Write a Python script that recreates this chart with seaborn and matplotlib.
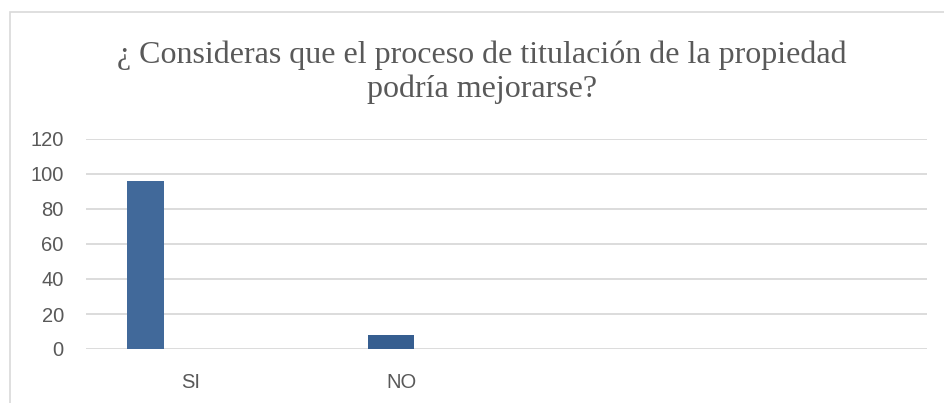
import matplotlib
matplotlib.use('Agg')
import matplotlib.pyplot as plt
import pandas as pd
import seaborn as sns
from matplotlib.patches import Rectangle

# data
categories = ['SI', 'NO']
values = [96, 8]
slots = ['SI', 'NO', 'x3', 'x4']          # Excel axis has 4 category slots
tick_labels = ['SI', 'NO', '', '']
title_lines = ['¿ Consideras que el proceso de titulación de la propiedad',
               'podría mejorarse?']

bar_colors = ['#41699A', '#365E90']
bar_widths = [0.174, 0.219]
bar_offsets = [-0.216, -0.051]
grey_text = '#595959'
grid_col = '#D9D9D9'

df = pd.DataFrame({'cat': categories, 'val': values})

sns.set_style('white')
plt.rcParams['font.family'] = ['Liberation Sans', 'DejaVu Sans']

fig = plt.figure(figsize=(9.44, 4.03), dpi=100)
ax = fig.add_axes([86 / 944, 1 - 349 / 403, (927 - 86) / 944, 210 / 403])

sns.barplot(data=df, x='cat', y='val', order=slots, ax=ax, errorbar=None, color=bar_colors[0])

for i, p in enumerate(ax.patches[:len(categories)]):
    c = p.get_x() + p.get_width() / 2
    p.set_width(bar_widths[i])
    p.set_x(c + bar_offsets[i] - bar_widths[i] / 2)
    p.set_facecolor(bar_colors[i])
    p.set_edgecolor('none')
    p.set_zorder(3)

ax.set_xlim(-0.5, len(slots) - 0.5)
ax.set_ylim(0, 120)
ax.set_yticks(range(0, 121, 20))
ax.set_xticks(range(len(slots)))
ax.set_xticklabels(tick_labels)
ax.grid(axis='y', color=grid_col, linewidth=1.3, zorder=0)
ax.set_axisbelow(True)
for s in ax.spines.values():
    s.set_visible(False)
ax.tick_params(axis='both', length=0, labelsize=14.5, colors=grey_text)
ax.tick_params(axis='y', pad=16)
ax.tick_params(axis='x', pad=17)
ax.set_xlabel('')
ax.set_ylabel('')

for line, base in zip(title_lines, [63, 97]):
    fig.text(482 / 944, 1 - base / 403, line, ha='center', va='baseline', fontsize=23,
             color=grey_text, family=['Liberation Serif', 'DejaVu Serif'])

fig.patches.append(Rectangle((10 / 944, -0.05), 1.0, 1 - 12 / 403 + 0.05,
                             transform=fig.transFigure, fill=False,
                             edgecolor=grid_col, linewidth=1.2, zorder=0))

fig.savefig('out.png', dpi=100)
